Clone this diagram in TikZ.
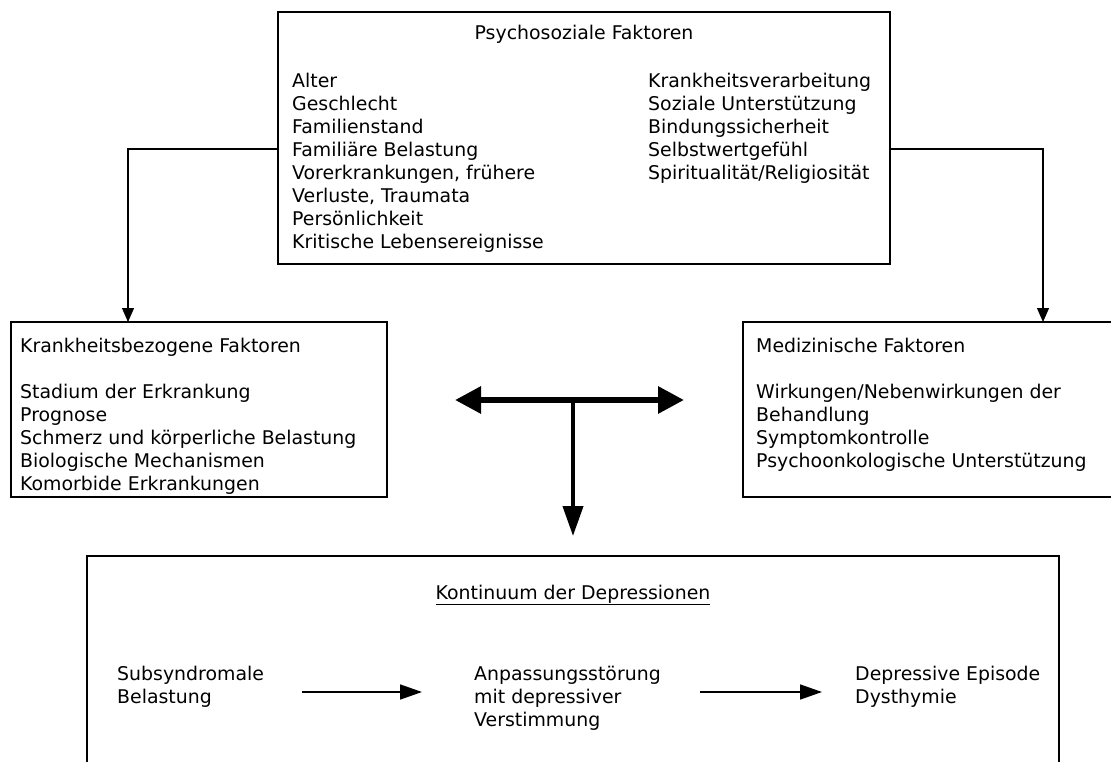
\documentclass[tikz,border=0pt]{standalone}
\usepackage{fontspec}
\setmainfont{DejaVu Sans}
\usetikzlibrary{positioning,arrows.meta}

\tikzset{
  box/.style={draw, line width=1.2pt, rectangle, outer sep=0pt, inner sep=0pt},
  txt/.style={inner sep=0pt, align=left, font=\fontsize{18.9}{23}\selectfont},
  conn/.style={line width=1.2pt, -{Triangle[length=14pt,width=12pt]}},
  flow/.style={line width=1.6pt, -{Triangle[length=22pt,width=15pt]}},
  wide/.style={line width=6pt, {Triangle[length=26pt,width=26pt]}-{Triangle[length=26pt,width=26pt]}},
  down/.style={line width=4pt, -{Triangle[length=30pt,width=20pt]}}
}

\begin{document}
\begin{tikzpicture}[x=1pt,y=-1pt]
  \clip (0,0) rectangle (1111,762);

  % boxes
  \node[box, anchor=north west, minimum width=612pt, minimum height=252pt] (ps) at (278,12) {};
  \node[box, anchor=north west, minimum width=376pt, minimum height=175pt] (kb) at (11,322) {};
  \node[box, anchor=north west, minimum width=380pt, minimum height=175pt] (md) at (743,322) {};
  \node[box, anchor=north west, minimum width=972pt, minimum height=260pt] (kd) at (87,556) {};

  % texts
  \node[txt, anchor=north, below=12.5pt of ps.north] (pstitle) {Psychosoziale Faktoren};
  \node[txt, below right=60.5pt and 14pt of ps.north west] (psleft) {Alter\\Geschlecht\\Familienstand\\Familiäre Belastung\\Vorerkrankungen, frühere\\Verluste, Traumata\\Persönlichkeit\\Kritische Lebensereignisse};
  \node[txt, below right=60.5pt and 370pt of ps.north west] (psright) {Krankheitsverarbeitung\\Soziale Unterstützung\\Bindungssicherheit\\Selbstwertgefühl\\Spiritualität/Religiosität};
  \node[txt, below right=15.5pt and 9pt of kb.north west] (kbtext) {Krankheitsbezogene Faktoren\\[23pt]Stadium der Erkrankung\\Prognose\\Schmerz und körperliche Belastung\\Biologische Mechanismen\\Komorbide Erkrankungen};
  \node[txt, below right=15.5pt and 13pt of md.north west] (mdtext) {Medizinische Faktoren\\[23pt]Wirkungen/Nebenwirkungen der\\Behandlung\\Symptomkontrolle\\Psychoonkologische Unterstützung};
  \node[txt, below=28.6pt of kd.north] (kdtitle) {\underline{Kontinuum der Depressionen}};
  \node[txt, below right=110pt and 30pt of kd.north west] (sub) {Subsyndromale\\Belastung};
  \node[txt, below right=110pt and 387pt of kd.north west] (anp) {Anpassungsstörung\\mit depressiver\\Verstimmung};
  \node[txt, below right=110pt and 768pt of kd.north west] (dep) {Depressive Episode\\Dysthymie};

  % connectors
  \draw[conn] ([yshift=-11pt]ps.west) -| ([xshift=-71pt]kb.north);
  \draw[conn] ([yshift=-11pt]ps.east) -| ([xshift=110pt]md.north);

  \coordinate (tl) at (455,400);
  \coordinate (tr) at (684,400);
  \coordinate (tm) at (573,400);
  \coordinate (tb) at ([yshift=20pt]kd.north);
  \draw[wide] (tl) -- (tr);
  \draw[down] (tm) -- (tb);

  \coordinate (f1s) at (302,692);
  \coordinate (f1e) at (422,692);
  \coordinate (f2s) at (700,692);
  \coordinate (f2e) at (822,692);
  \draw[flow] (f1s) -- (f1e);
  \draw[flow] (f2s) -- (f2e);
\end{tikzpicture}
\end{document}
